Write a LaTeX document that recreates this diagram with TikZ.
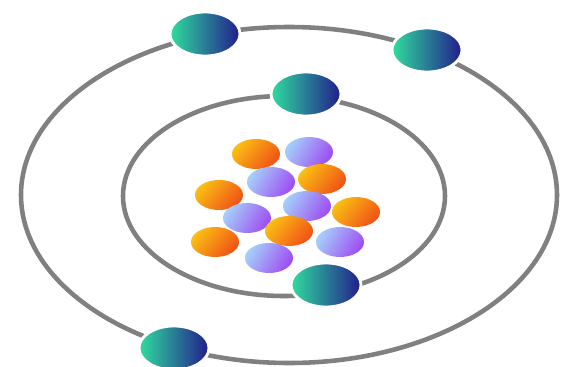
\documentclass[tikz,border=0pt]{standalone}
\usepackage{tikz}
\usetikzlibrary{shapes.geometric}
\definecolor{orbitgray}{RGB}{128,128,128}
\definecolor{elecgreen}{RGB}{48,220,158}
\definecolor{electeal}{RGB}{38,140,162}
\definecolor{elecblue}{RGB}{34,28,140}
\definecolor{protyellow}{RGB}{250,190,20}
\definecolor{protred}{RGB}{240,82,22}
\definecolor{neutblue}{RGB}{165,205,250}
\definecolor{neutviolet}{RGB}{158,78,242}

\begin{document}
\begin{tikzpicture}[x=0.02cm,y=0.02cm,
    orbit/.style={draw=orbitgray,line width=2.6pt},
    electron/.style={ellipse,inner sep=0pt,minimum width=1.4cm,minimum height=0.88cm,
        draw=white,line width=1.6pt,
        left color=elecgreen,middle color=electeal,right color=elecblue},
    proton/.style={ellipse,inner sep=0pt,minimum width=0.96cm,minimum height=0.6cm,
        top color=protyellow,bottom color=protred,shading angle=50},
    neutron/.style={ellipse,inner sep=0pt,minimum width=0.96cm,minimum height=0.6cm,
        top color=neutblue,bottom color=neutviolet,shading angle=60}]

\useasboundingbox (0,0) rectangle (562,366);

% shells
\draw[orbit] (289,171) ellipse [x radius=268,y radius=168];
\draw[orbit] (284,170) ellipse [x radius=161,y radius=100];

% nucleus, back row first
\node[neutron] (n1) at (309,214) {};
\node[proton]  (p1) at (256,212) {};
\node[neutron] (n2) at (271,184) {};
\node[proton]  (p2) at (322,187) {};
\node[proton]  (p3) at (219,171) {};
\node[neutron] (n3) at (307,160) {};
\node[proton]  (p4) at (356,154) {};
\node[neutron] (n4) at (247,148) {};
\node[proton]  (p5) at (289,135) {};
\node[proton]  (p6) at (215,124) {};
\node[neutron] (n5) at (340,124) {};
\node[neutron] (n6) at (269,108) {};

% electrons
\node[electron] (e1) at (205,332) {};
\node[electron] (e2) at (427,316) {};
\node[electron] (e3) at (306,272) {};
\node[electron] (e4) at (326,81) {};
\node[electron] (e5) at (174,18) {};

\end{tikzpicture}
\end{document}
